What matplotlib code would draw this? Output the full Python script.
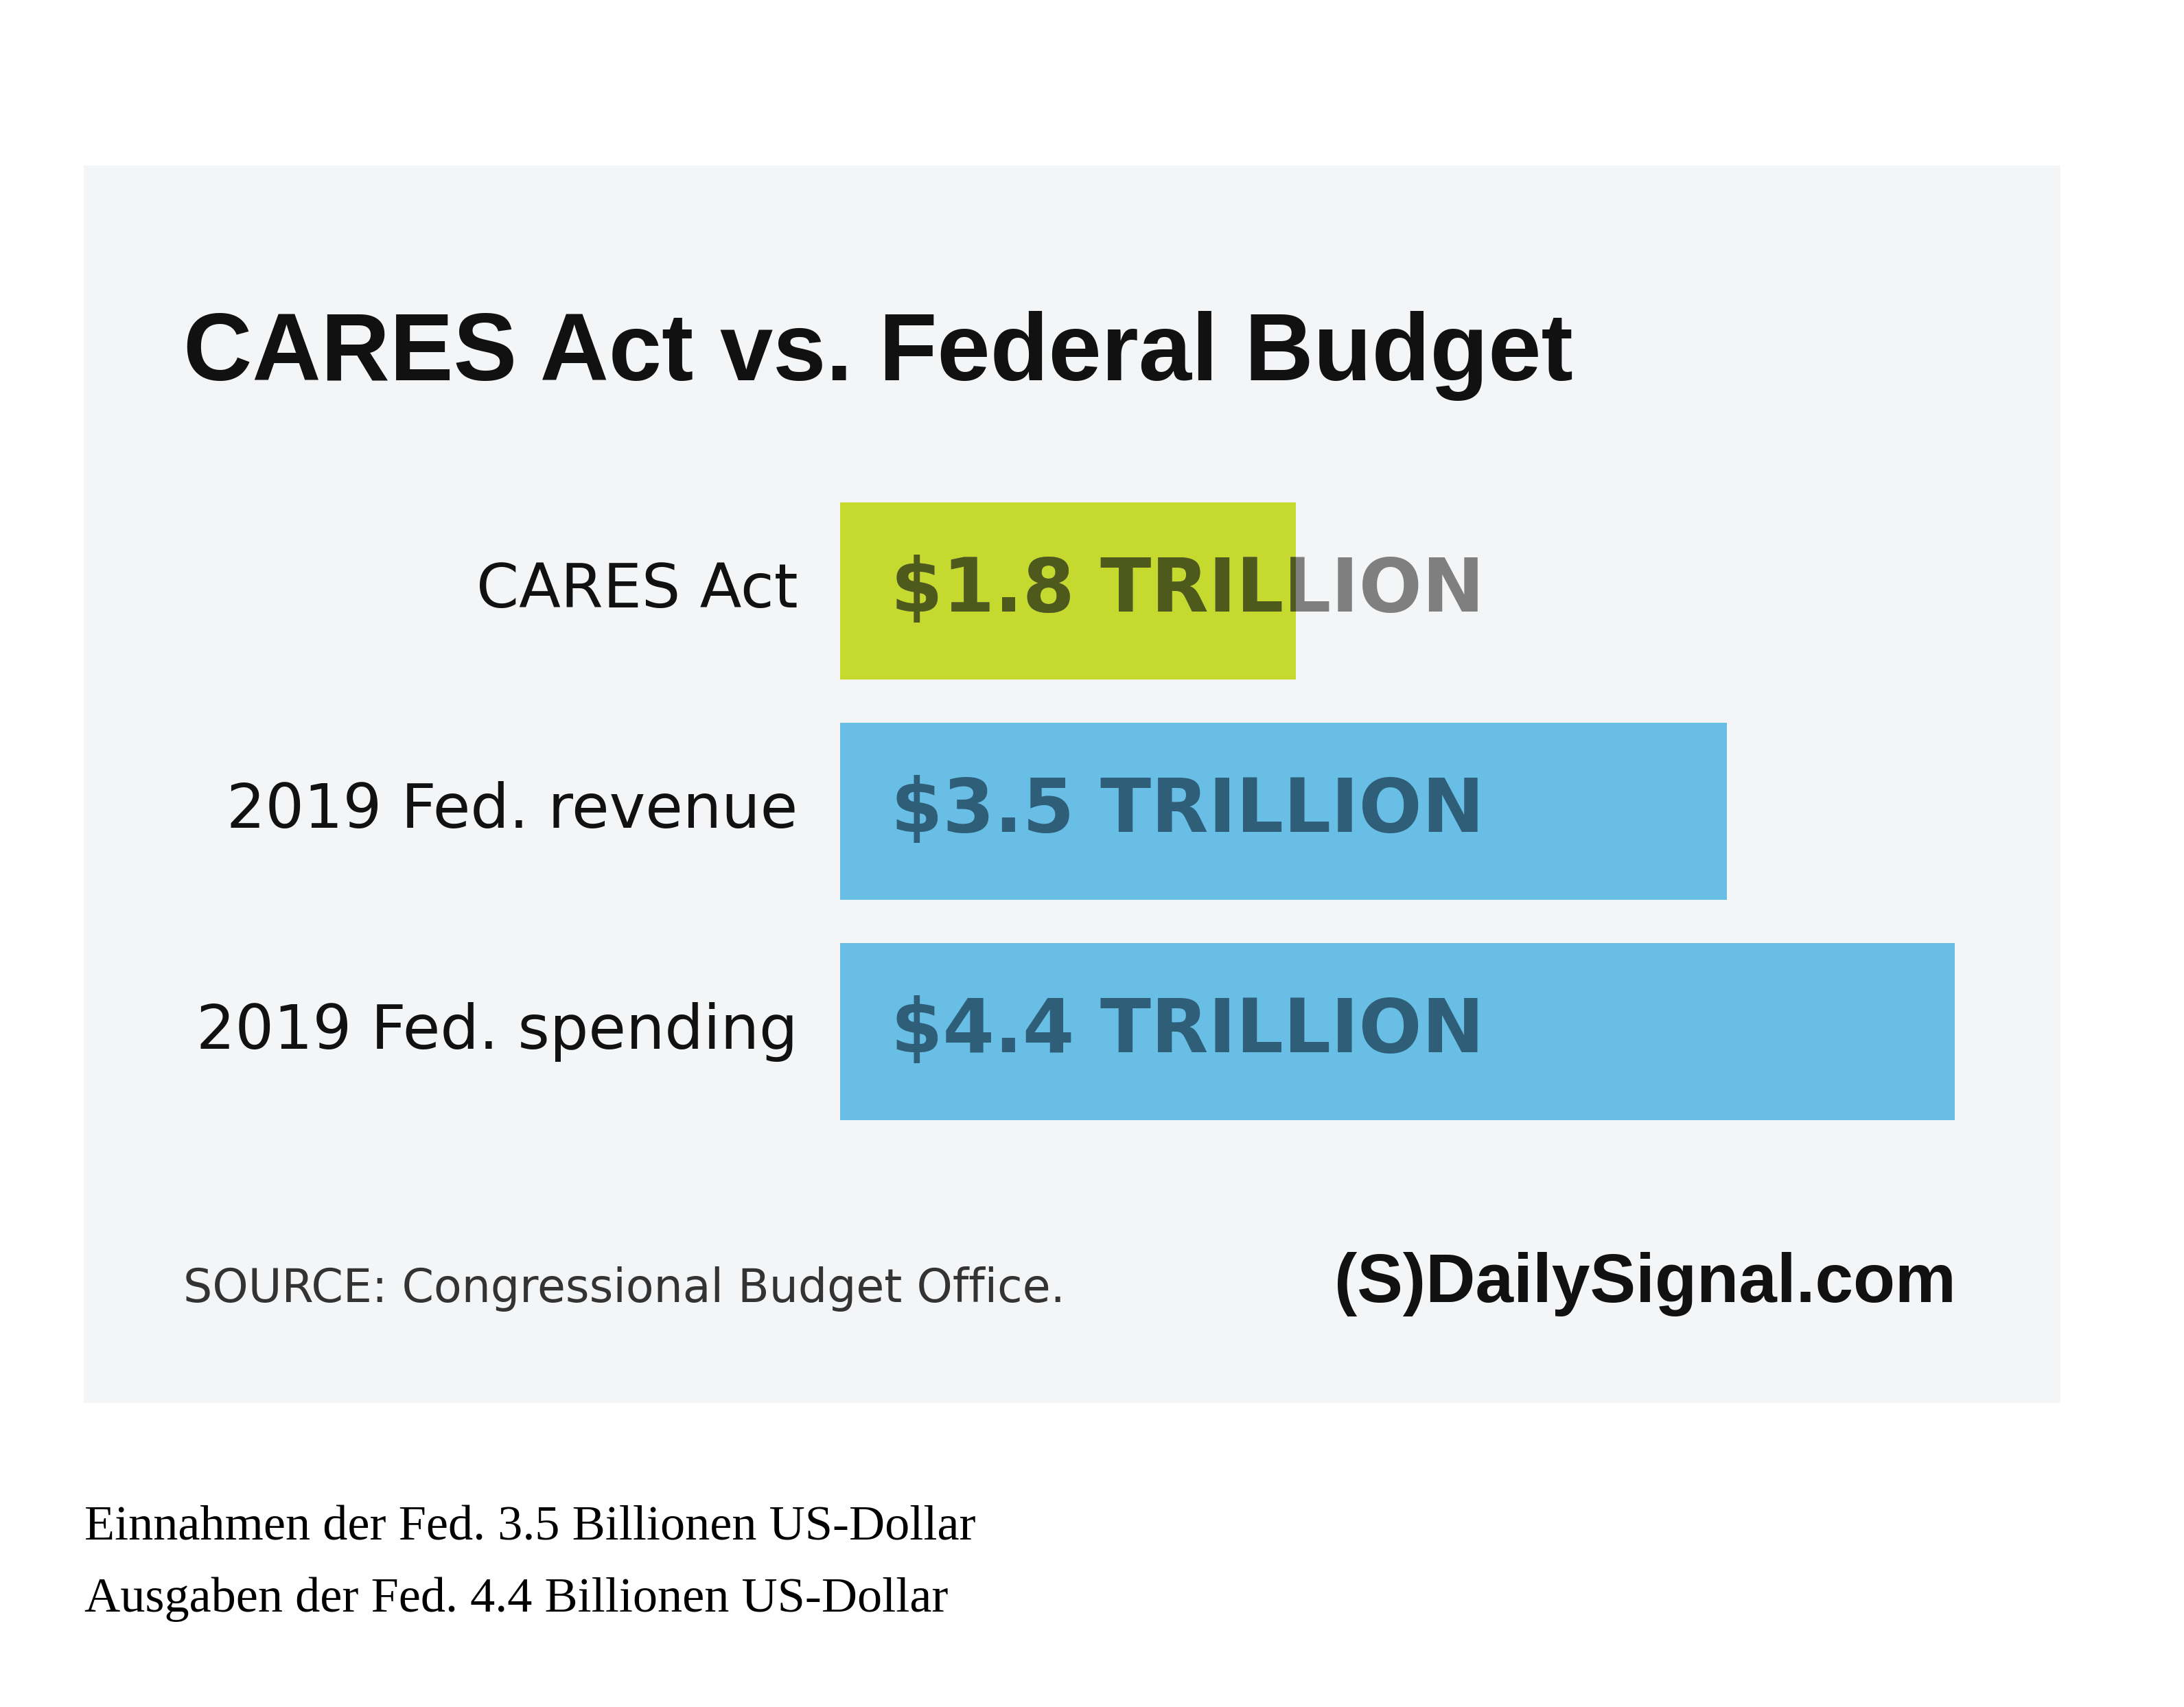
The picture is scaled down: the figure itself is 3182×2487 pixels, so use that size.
import matplotlib.pyplot as plt
from matplotlib.patches import Rectangle

categories = ['CARES Act', '2019 Fed. revenue', '2019 Fed. spending']
values = [1.8, 3.5, 4.4]
bar_labels = ['$1.8 TRILLION', '$3.5 TRILLION', '$4.4 TRILLION']
bar_colors = ['#c6d92f', '#69bee6', '#69bee6']
text_colors = ['#4d5a1c', '#2e5e78', '#2e5e78']

W, H = 1552, 1213
fig = plt.figure(figsize=(15.91, 12.435), dpi=200)
fig.patch.set_facecolor('white')

# light grey panel
fig.patches.append(Rectangle((60 / W, 1 - 996 / H), 1403 / W, 878 / H,
                             transform=fig.transFigure, color='#f4f5f7', zorder=-5))

narrow = ['Liberation Sans', 'DejaVu Sans']
fig.text(130 / W, 1 - 270 / H, 'CARES Act vs. Federal Budget', fontsize=50,
         fontweight='bold', family=narrow, color='#111111', va='baseline')

ax = fig.add_axes([597 / W, 1 - 796 / H, 792 / W, 439 / H])
ax.set_facecolor('none')
ax.set_xlim(0, 4.4)
ax.set_ylim(2.4, -0.4)
ax.axis('off')

bars = ax.barh(range(len(values)), values, height=0.805, color=bar_colors)
for i, (bar, lab) in enumerate(zip(bars, bar_labels)):
    x0 = 36 / 792 * 4.4
    if values[i] < 2.5:
        ax.text(x0, i, lab, fontsize=39, fontweight='bold', color='#7f7f7f',
                va='center', ha='left')
    t = ax.text(x0, i, lab, fontsize=39, fontweight='bold', color=text_colors[i],
                va='center', ha='left')
    t.set_clip_on(True)
    t.set_clip_path(bar)
    ax.text(-30 / 792 * 4.4, i, categories[i], fontsize=32, color='#111111',
            va='center', ha='right', clip_on=False)

fig.text(130 / W, 1 - 925 / H, 'SOURCE: Congressional Budget Office.', fontsize=24,
         color='#333333', va='baseline')
fig.text(1390 / W, 1 - 925 / H, '(S)DailySignal.com', fontsize=36, fontweight='bold',
         family=narrow, color='#111111', va='baseline', ha='right')

fig.text(60 / W, 1 - 1094 / H, 'Einnahmen der Fed. 3.5 Billionen US-Dollar',
         fontsize=26, family='Liberation Serif', va='baseline')
fig.text(60 / W, 1 - 1145 / H, 'Ausgaben der Fed. 4.4 Billionen US-Dollar',
         fontsize=26, family='Liberation Serif', va='baseline')

fig.savefig('out.png', dpi=200)
